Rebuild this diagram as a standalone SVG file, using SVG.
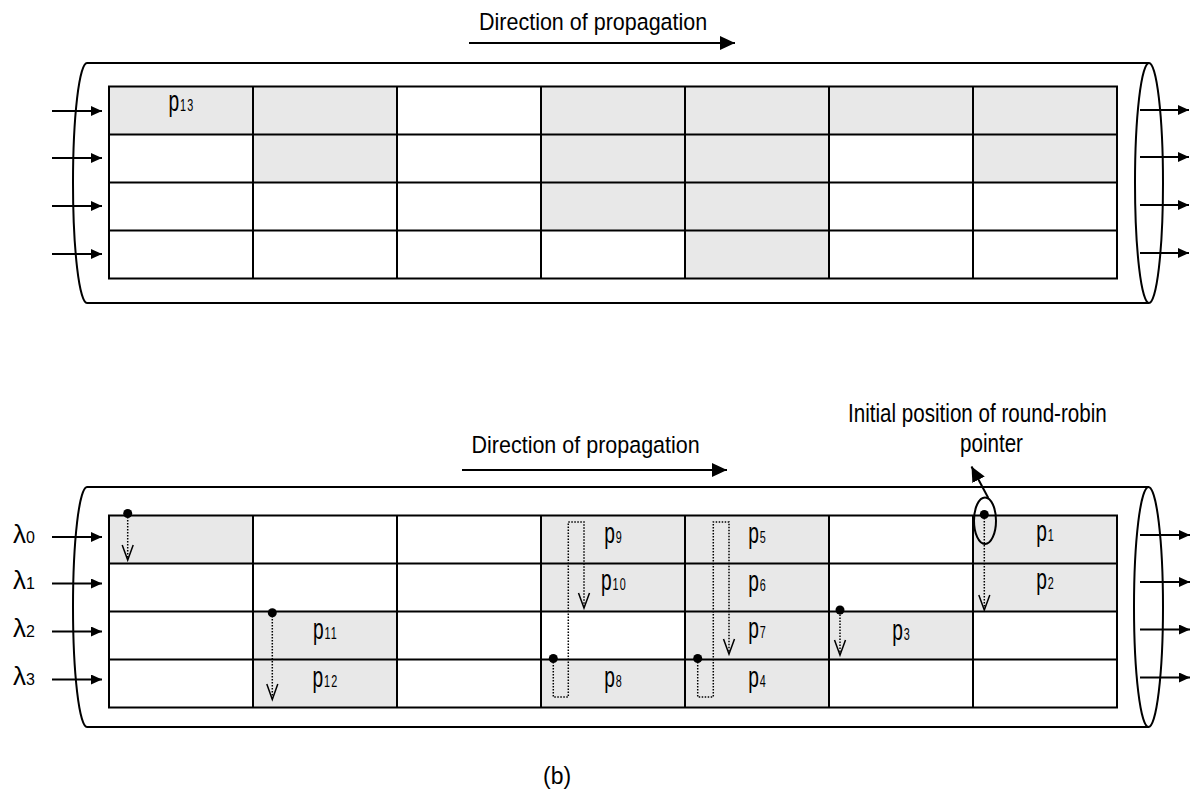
<svg xmlns="http://www.w3.org/2000/svg" width="1198" height="800" viewBox="0 0 1198 800">
<style>
  .t { font-family: "Liberation Sans", Arial, sans-serif; fill: #000; }
  .ln { stroke: #000; stroke-width: 2; fill: none; }
  .gray { fill: #e8e8e8; stroke: none; }
  .arr { stroke: #000; stroke-width: 2; fill: none; marker-end: url(#ah); }
  .arrL { stroke: #000; stroke-width: 2; fill: none; marker-end: url(#ahL); }
  .dot { stroke: #000; stroke-width: 1.5; fill: none; stroke-dasharray: 1.5 1.5; }
  .vh { stroke: #000; stroke-width: 1.5; fill: none; }
  .pl { font-size: 24px; }
  .sub { font-size: 13.5px; letter-spacing: 1.5px; }
</style>
<defs>
  <marker id="ah" markerWidth="11" markerHeight="10" refX="11" refY="5" orient="auto" markerUnits="userSpaceOnUse">
    <path d="M0,0 L11,5 L0,10 z" fill="#000"/>
  </marker>
  <marker id="ahL" markerWidth="15" markerHeight="14" refX="15" refY="7" orient="auto" markerUnits="userSpaceOnUse">
    <path d="M0,0 L15,7 L0,14 z" fill="#000"/>
  </marker>
</defs>
<rect width="1198" height="800" fill="#fff"/>

<!-- ===== TOP ===== -->
<g id="top-direction">
  <text class="t" font-size="21.5" transform="translate(479,30) scale(1,1.14)">Direction of propagation</text>
</g>

<g id="top-tube">
  <path class="ln" d="M87,63 H1149 M87,303 H1149"/>
  <path class="ln" d="M87,63 A14,120 0 0 0 87,303"/>
  <ellipse class="ln" cx="1149" cy="183" rx="14" ry="120"/>
</g>

<g id="top-grid">
  <rect class="gray" x="109" y="86.5" width="144" height="48"/>
  <rect class="gray" x="253" y="86.5" width="144" height="48"/>
  <rect class="gray" x="541" y="86.5" width="144" height="48"/>
  <rect class="gray" x="685" y="86.5" width="144" height="48"/>
  <rect class="gray" x="829" y="86.5" width="144" height="48"/>
  <rect class="gray" x="973" y="86.5" width="144" height="48"/>
  <rect class="gray" x="253" y="134.5" width="144" height="48"/>
  <rect class="gray" x="541" y="134.5" width="144" height="48"/>
  <rect class="gray" x="685" y="134.5" width="144" height="48"/>
  <rect class="gray" x="973" y="134.5" width="144" height="48"/>
  <rect class="gray" x="541" y="182.5" width="144" height="48"/>
  <rect class="gray" x="685" y="182.5" width="144" height="48"/>
  <rect class="gray" x="685" y="230.5" width="144" height="48"/>
  <rect class="ln" x="109" y="86.5" width="1008" height="192"/>
  <path class="ln" d="M109,134.5 H1117 M109,182.5 H1117 M109,230.5 H1117 M253,86.5 V278.5 M397,86.5 V278.5 M541,86.5 V278.5 M685,86.5 V278.5 M829,86.5 V278.5 M973,86.5 V278.5"/>
</g>

<g id="cell-p13">
  <text class="t pl" text-anchor="middle" transform="translate(181.5,110.5) scale(0.8,1.2)">p<tspan class="sub" dx="1">13</tspan></text>
</g>

<!-- ===== BOTTOM ===== -->
<g id="bottom-direction">
  <text class="t" font-size="21.5" transform="translate(471.5,453) scale(1,1.14)">Direction of propagation</text>
</g>

<g id="rr-label">
  <text class="t" font-size="20.6" transform="translate(848,421.5) scale(1,1.28)">Initial position of round-robin</text>
  <text class="t" font-size="20.6" transform="translate(960,451.5) scale(1,1.28)">pointer</text>
</g>

<g id="lambda-labels">
  <text class="t" x="13" y="543" font-size="26">λ<tspan font-size="16">0</tspan></text>
  <text class="t" x="13" y="589" font-size="26">λ<tspan font-size="16">1</tspan></text>
  <text class="t" x="13" y="637" font-size="26">λ<tspan font-size="16">2</tspan></text>
  <text class="t" x="13" y="685" font-size="26">λ<tspan font-size="16">3</tspan></text>
</g>

<g id="bottom-tube">
  <path class="ln" d="M87,487 H1149 M87,727 H1149"/>
  <path class="ln" d="M87,487 A14,120 0 0 0 87,727"/>
  <ellipse class="ln" cx="1148.5" cy="607" rx="14.5" ry="120"/>
</g>

<g id="bottom-grid">
  <rect class="gray" x="109" y="515.5" width="144" height="48"/>
  <rect class="gray" x="541" y="515.5" width="144" height="48"/>
  <rect class="gray" x="685" y="515.5" width="144" height="48"/>
  <rect class="gray" x="973" y="515.5" width="144" height="48"/>
  <rect class="gray" x="541" y="563.5" width="144" height="48"/>
  <rect class="gray" x="685" y="563.5" width="144" height="48"/>
  <rect class="gray" x="973" y="563.5" width="144" height="48"/>
  <rect class="gray" x="253" y="611.5" width="144" height="48"/>
  <rect class="gray" x="685" y="611.5" width="144" height="48"/>
  <rect class="gray" x="829" y="611.5" width="144" height="48"/>
  <rect class="gray" x="253" y="659.5" width="144" height="48"/>
  <rect class="gray" x="541" y="659.5" width="144" height="48"/>
  <rect class="gray" x="685" y="659.5" width="144" height="48"/>
  <rect class="ln" x="109" y="515.5" width="1008" height="192"/>
  <path class="ln" d="M109,563.5 H1117 M109,611.5 H1117 M109,659.5 H1117 M253,515.5 V707.5 M397,515.5 V707.5 M541,515.5 V707.5 M685,515.5 V707.5 M829,515.5 V707.5 M973,515.5 V707.5"/>
</g>

<g id="cell-p1"><text class="t pl" text-anchor="middle" transform="translate(1045.5,540.5) scale(0.8,1.2)">p<tspan class="sub" dx="1">1</tspan></text></g>
<g id="cell-p2"><text class="t pl" text-anchor="middle" transform="translate(1045.5,588.5) scale(0.8,1.2)">p<tspan class="sub" dx="1">2</tspan></text></g>
<g id="cell-p3"><text class="t pl" text-anchor="middle" transform="translate(901.5,640) scale(0.8,1.2)">p<tspan class="sub" dx="1">3</tspan></text></g>
<g id="cell-p4"><text class="t pl" text-anchor="middle" transform="translate(757.5,687) scale(0.8,1.2)">p<tspan class="sub" dx="1">4</tspan></text></g>
<g id="cell-p5"><text class="t pl" text-anchor="middle" transform="translate(757.5,543) scale(0.8,1.2)">p<tspan class="sub" dx="1">5</tspan></text></g>
<g id="cell-p6"><text class="t pl" text-anchor="middle" transform="translate(757.5,591) scale(0.8,1.2)">p<tspan class="sub" dx="1">6</tspan></text></g>
<g id="cell-p7"><text class="t pl" text-anchor="middle" transform="translate(757.5,638) scale(0.8,1.2)">p<tspan class="sub" dx="1">7</tspan></text></g>
<g id="cell-p8"><text class="t pl" text-anchor="middle" transform="translate(613.5,687) scale(0.8,1.2)">p<tspan class="sub" dx="1">8</tspan></text></g>
<g id="cell-p9"><text class="t pl" text-anchor="middle" transform="translate(613.5,543) scale(0.8,1.2)">p<tspan class="sub" dx="1">9</tspan></text></g>
<g id="cell-p10"><text class="t pl" text-anchor="middle" transform="translate(614,590) scale(0.8,1.2)">p<tspan class="sub" dx="1">10</tspan></text></g>
<g id="cell-p11"><text class="t pl" text-anchor="middle" transform="translate(325.5,639) scale(0.8,1.2)">p<tspan class="sub" dx="1">11</tspan></text></g>
<g id="cell-p12"><text class="t pl" text-anchor="middle" transform="translate(325.5,687) scale(0.8,1.2)">p<tspan class="sub" dx="1">12</tspan></text></g>

<g id="caption">
  <text class="t" font-size="23" transform="translate(543,783.5) scale(1,1.08)">(b)</text>
</g>

<!-- ===== CONNECTORS ===== -->
<g id="connectors">
  <!-- direction arrows -->
  <line class="arrL" x1="469" y1="43" x2="735" y2="43"/>
  <line class="arrL" x1="462" y1="470" x2="727" y2="470"/>
  <!-- top inputs / outputs -->
  <line class="arr" x1="52" y1="111" x2="102" y2="111"/>
  <line class="arr" x1="52" y1="158" x2="102" y2="158"/>
  <line class="arr" x1="52" y1="206" x2="102" y2="206"/>
  <line class="arr" x1="52" y1="254" x2="102" y2="254"/>
  <line class="arr" x1="1140" y1="110" x2="1189" y2="110"/>
  <line class="arr" x1="1140" y1="157" x2="1189" y2="157"/>
  <line class="arr" x1="1140" y1="205" x2="1189" y2="205"/>
  <line class="arr" x1="1140" y1="253" x2="1189" y2="253"/>
  <!-- bottom inputs / outputs -->
  <line class="arr" x1="52" y1="537" x2="102" y2="537"/>
  <line class="arr" x1="52" y1="583.5" x2="102" y2="583.5"/>
  <line class="arr" x1="52" y1="631.5" x2="102" y2="631.5"/>
  <line class="arr" x1="52" y1="679.5" x2="102" y2="679.5"/>
  <line class="arr" x1="1140" y1="535" x2="1190" y2="535"/>
  <line class="arr" x1="1140" y1="582" x2="1190" y2="582"/>
  <line class="arr" x1="1140" y1="629.5" x2="1190" y2="629.5"/>
  <line class="arr" x1="1140" y1="677.5" x2="1190" y2="677.5"/>

  <!-- pointer A (col0) -->
  <path class="dot" d="M127.7,514 V559"/>
  <path class="vh" d="M122.2,545 L127.7,560 L133.2,545"/>
  <circle cx="127.7" cy="513.5" r="4.5" fill="#000"/>
  <!-- pointer B (col1) -->
  <path class="dot" d="M272.3,613 V698.5"/>
  <path class="vh" d="M266.8,684 L272.3,699.5 L277.8,684"/>
  <circle cx="272.3" cy="612.7" r="4.5" fill="#000"/>
  <!-- pointer C (col3) -->
  <path class="dot" d="M553.3,659 V697 H568.3 V522 H584 V607"/>
  <path class="vh" d="M578.5,593 L584,608 L589.5,593"/>
  <circle cx="553.3" cy="658.5" r="4.5" fill="#000"/>
  <!-- pointer D (col4) -->
  <path class="dot" d="M697.7,659 V697 H713.3 V522 H729 V653"/>
  <path class="vh" d="M723.5,639 L729,654 L734.5,639"/>
  <circle cx="697.7" cy="658.5" r="4.5" fill="#000"/>
  <!-- pointer E (col5) -->
  <path class="dot" d="M840,611.5 V654"/>
  <path class="vh" d="M834.5,640 L840,655 L845.5,640"/>
  <circle cx="840" cy="610" r="4.5" fill="#000"/>
  <!-- pointer F (col6) -->
  <path class="dot" d="M984.3,515 V609"/>
  <path class="vh" d="M978.8,595 L984.3,610 L989.8,595"/>
  <circle cx="984.3" cy="514.5" r="4.5" fill="#000"/>
  <ellipse cx="985" cy="520.7" rx="11" ry="23.3" fill="none" stroke="#000" stroke-width="2"/>
  <line class="arrL" x1="988.3" y1="498" x2="971.5" y2="466.5"/>
</g>
</svg>
